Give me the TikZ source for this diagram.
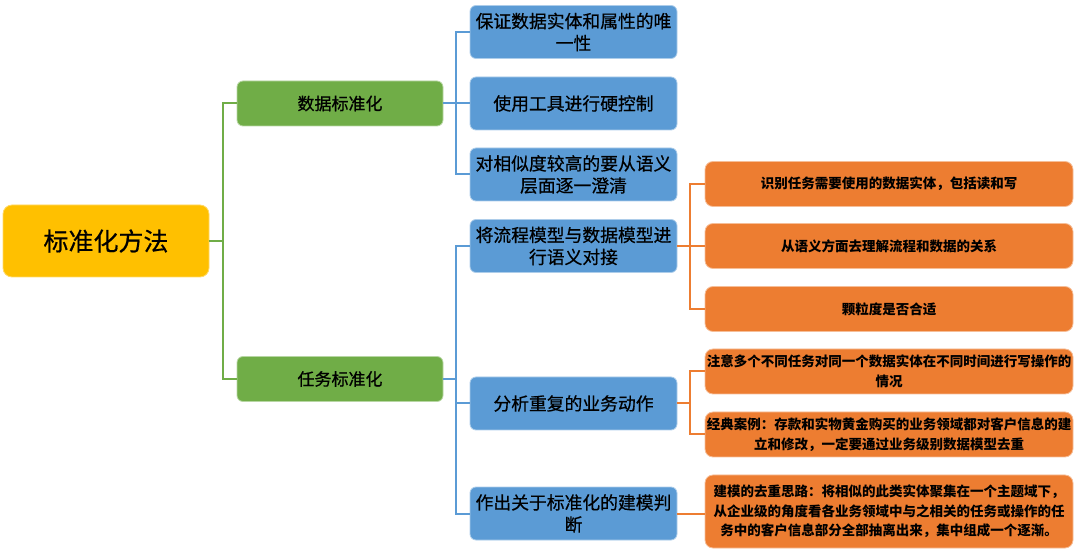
\documentclass[tikz,border=0pt]{standalone}
\usepackage{fontspec}
\setmainfont{Noto Sans CJK SC}
\newfontfamily\medcjk{Noto Sans CJK SC}[FakeBold=0.6]
\definecolor{cyellow}{HTML}{FFC000}
\definecolor{cgreen}{HTML}{70AD47}
\definecolor{cblue}{HTML}{5B9BD5}
\definecolor{corange}{HTML}{ED7D31}
\tikzset{
  box/.style={rounded corners=6pt, line width=0.8pt, align=center, inner sep=1pt, text=black},
  rootbox/.style={box, fill=cyellow, draw=cyellow!60!white, rounded corners=9pt, minimum width=206pt, minimum height=72pt, font=\medcjk\fontsize{25}{30}\selectfont},
  greenbox/.style={box, fill=cgreen, draw=cgreen!50!white, minimum width=206pt, minimum height=45pt, font=\medcjk\fontsize{17}{22}\selectfont},
  bluebox/.style={box, fill=cblue, draw=cblue!50!white, minimum width=207pt, minimum height=53pt, font=\medcjk\fontsize{17.8}{22}\selectfont},
  orangebox/.style={box, fill=corange, draw=corange!50!white, rounded corners=8pt, minimum width=368pt, minimum height=45pt, font=\fontsize{13.5}{19.5}\selectfont\bfseries},
  gline/.style={draw=cgreen, line width=2pt},
  bline/.style={draw=cblue, line width=2pt},
  oline/.style={draw=corange, line width=2pt},
}
\begin{document}
\begin{tikzpicture}[x=1pt,y=-1pt]
\useasboundingbox (0,0) rectangle (1080,553);
% root
\node[rootbox] (root) at (106,241) {标准化方法};
% green
\node[greenbox] (g1) at (340,103.5) {数据标准化};
\node[greenbox] (g2) at (340,379) {任务标准化};
% blue
\node[bluebox] (b1) at (573.5,32) {保证数据实体和属性的唯\\一性};
\node[bluebox] (b2) at (573.5,103.5) {使用工具进行硬控制};
\node[bluebox] (b3) at (573.5,174.5) {对相似度较高的要从语义\\层面逐一澄清};
\node[bluebox] (b4) at (573.5,246) {将流程模型与数据模型进\\行语义对接};
\node[bluebox] (b5) at (573.5,403.5) {分析重复的业务动作};
\node[bluebox] (b6) at (573.5,513.5) {作出关于标准化的建模判\\断};
% orange
\node[orangebox] (o1) at (889,184) {识别任务需要使用的数据实体，包括读和写};
\node[orangebox] (o2) at (889,246) {从语义方面去理解流程和数据的关系};
\node[orangebox] (o3) at (889,309) {颗粒度是否合适};
\node[orangebox] (o4) at (889,371.5) {注意多个不同任务对同一个数据实体在不同时间进行写操作的\\情况};
\node[orangebox] (o5) at (889,434.5) {经典案例：存款和实物黄金购买的业务领域都对客户信息的建\\立和修改，一定要通过业务级别数据模型去重};
\node[orangebox, minimum height=73pt] (o6) at (889,511.5) {建模的去重思路：将相似的此类实体聚集在一个主题域下，\\从企业级的角度看各业务领域中与之相关的任务或操作的任\\务中的客户信息部分全部抽离出来，集中组成一个逐渐。};
% junction coordinates
\coordinate (gx) at (223,0);
\coordinate (bx) at (456,0);
\coordinate (ox) at (690,0);
% green connectors
\draw[gline] (root.east) -- (root.east -| gx);
\draw[gline] (g1.west) -| (gx |- root.east);
\draw[gline] (g2.west) -| (gx |- root.east);
% blue connectors from g1
\draw[bline] (g1.east) -- (b2.west);
\draw[bline] (b1.west) -| (bx |- g1.east);
\draw[bline] (b3.west) -| (bx |- g1.east);
% blue connectors from g2
\draw[bline] (g2.east) -- (g2.east -| bx);
\draw[bline] (b4.west) -| (bx |- g2.east);
\draw[bline] (b5.west) -| (bx |- g2.east);
\draw[bline] (b6.west) -| (bx |- g2.east);
% orange connectors from b4
\draw[oline] (b4.east) -- (o2.west);
\draw[oline] (o1.west) -| (ox |- b4.east);
\draw[oline] (o3.west) -| (ox |- b4.east);
% orange from b5
\draw[oline] (b5.east) -- (b5.east -| ox);
\draw[oline] (o4.west) -| (ox |- b5.east);
\draw[oline] (o5.west) -| (ox |- b5.east);
% orange from b6
\draw[oline] (b6.east) -- (b6.east -| o6.west);
\end{tikzpicture}
\end{document}
